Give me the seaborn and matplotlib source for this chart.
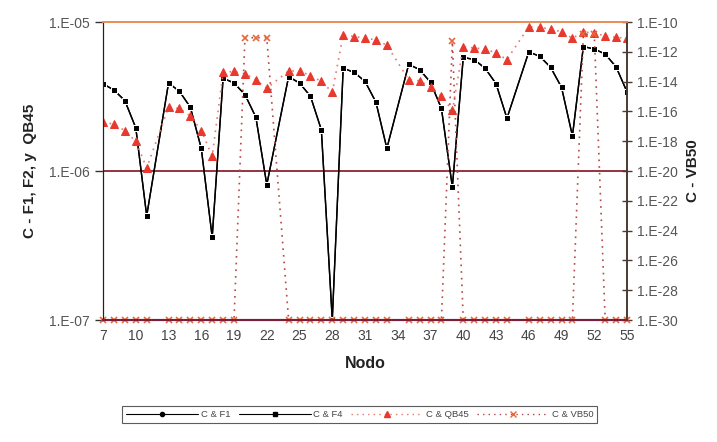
import numpy as np
import matplotlib
matplotlib.use("Agg")
import matplotlib.pyplot as plt
import seaborn as sns
from matplotlib.lines import Line2D
from matplotlib.ticker import FixedLocator, FuncFormatter, NullLocator

# nodes (12, 23, 34, 45 have no data)
nodos = [7, 8, 9, 10, 11, 13, 14, 15, 16, 17, 18, 19, 20, 21, 22,
         24, 25, 26, 27, 28, 29, 30, 31, 32, 33, 35, 36, 37, 38, 39,
         40, 41, 42, 43, 44, 46, 47, 48, 49, 50, 51, 52, 53, 54, 55]

c_f1 = [3.85e-6, 3.5e-6, 2.97e-6, 1.95e-6, 5.0e-7, 3.9e-6, 3.43e-6, 2.68e-6, 1.42e-6, 3.6e-7,
        4.2e-6, 3.9e-6, 3.26e-6, 2.3e-6, 8.1e-7, 4.3e-6, 3.9e-6, 3.18e-6, 1.89e-6, 1.0e-7,
        4.9e-6, 4.6e-6, 4.0e-6, 2.9e-6, 1.42e-6, 5.2e-6, 4.8e-6, 3.94e-6, 2.63e-6, 7.8e-7,
        5.8e-6, 5.6e-6, 4.9e-6, 3.86e-6, 2.26e-6, 6.3e-6, 5.9e-6, 4.97e-6, 3.65e-6, 1.72e-6,
        6.85e-6, 6.6e-6, 6.1e-6, 5.0e-6, 3.4e-6]

c_f4 = [3.85e-6, 3.5e-6, 2.97e-6, 1.95e-6, 5.0e-7, 3.9e-6, 3.43e-6, 2.68e-6, 1.42e-6, 3.6e-7,
        4.2e-6, 3.9e-6, 3.26e-6, 2.3e-6, 8.1e-7, 4.3e-6, 3.9e-6, 3.18e-6, 1.89e-6, 1.0e-7,
        4.9e-6, 4.6e-6, 4.0e-6, 2.9e-6, 1.42e-6, 5.2e-6, 4.8e-6, 3.94e-6, 2.63e-6, 7.8e-7,
        5.8e-6, 5.6e-6, 4.9e-6, 3.86e-6, 2.26e-6, 6.3e-6, 5.9e-6, 4.97e-6, 3.65e-6, 1.72e-6,
        6.85e-6, 6.6e-6, 6.1e-6, 5.0e-6, 3.4e-6]

c_qb45 = [2.14e-6, 2.06e-6, 1.87e-6, 1.58e-6, 1.05e-6, 2.68e-6, 2.63e-6, 2.34e-6, 1.87e-6, 1.26e-6,
          4.6e-6, 4.66e-6, 4.5e-6, 4.1e-6, 3.6e-6, 4.7e-6, 4.7e-6, 4.37e-6, 4.0e-6, 3.38e-6,
          8.2e-6, 8.0e-6, 7.8e-6, 7.6e-6, 7.0e-6, 4.1e-6, 4.04e-6, 3.65e-6, 3.2e-6, 2.55e-6,
          6.85e-6, 6.7e-6, 6.6e-6, 6.2e-6, 5.6e-6, 9.3e-6, 9.2e-6, 9.0e-6, 8.6e-6, 7.8e-6,
          8.6e-6, 8.4e-6, 8.1e-6, 7.9e-6, 7.8e-6]

c_vb50 = [1e-30, 1e-30, 1e-30, 1e-30, 1e-30, 1e-30, 1e-30, 1e-30, 1e-30, 1e-30,
          1e-30, 1e-30, 9e-12, 9e-12, 9e-12, 1e-30, 1e-30, 1e-30, 1e-30, 1e-30,
          1e-30, 1e-30, 1e-30, 1e-30, 1e-30, 1e-30, 1e-30, 1e-30, 1e-30, 5e-12,
          1e-30, 1e-30, 1e-30, 1e-30, 1e-30, 1e-30, 1e-30, 1e-30, 1e-30, 1e-30,
          1.5e-11, 1.5e-11, 1e-30, 1e-30, 1e-30]

x_ticks = list(range(7, 56, 3))
left_ticks = [1e-7, 1e-6, 1e-5]
right_ticks = [10.0 ** -k for k in range(30, 9, -2)]

sns.set_style("white")
plt.rcParams["font.family"] = ["Liberation Sans", "DejaVu Sans"]

fig = plt.figure(figsize=(7.17, 4.42), dpi=100)
ax = fig.add_axes([0.1437, 0.276, 0.7308, 0.674])
ax2 = ax.twinx()

red_tri = "#e8392e"
red_dot = "#e27a6e"
x_col = "#e8663c"
vb_dot = "#b34848"

sns.lineplot(x=nodos, y=c_f1, ax=ax, color="black", marker="o", markersize=3.5,
             linewidth=1.0, estimator=None, sort=False, legend=False)
sns.lineplot(x=nodos, y=c_f4, ax=ax, color="black", marker="s", markersize=4.5,
             linewidth=1.0, estimator=None, sort=False, legend=False)
sns.lineplot(x=nodos, y=c_qb45, ax=ax, color=red_dot, marker="^", markersize=5.5,
             markerfacecolor=red_tri, markeredgecolor=red_tri, linewidth=1.2,
             linestyle=(0, (1, 3)), estimator=None, sort=False, legend=False)
sns.lineplot(x=nodos, y=c_vb50, ax=ax2, color=vb_dot, marker="x", markersize=5,
             markeredgecolor=x_col, markeredgewidth=1.2, linewidth=1.2,
             linestyle=(0, (1, 3)), estimator=None, sort=False, legend=False, clip_on=False)

ax.set_yscale("log")
ax2.set_yscale("log")
ax.set_xlim(7, 55)
ax.set_ylim(1e-7, 1e-5)
ax2.set_ylim(1e-30, 1e-10)

# horizontal line at the middle left tick
ax.axhline(1e-6, color="#8e2232", linewidth=1.3, zorder=0)

ax.xaxis.set_major_locator(FixedLocator(x_ticks))
ax.yaxis.set_major_locator(FixedLocator(left_ticks))
ax.yaxis.set_minor_locator(NullLocator())
ax.yaxis.set_major_formatter(FuncFormatter(lambda v, p: "1.E-%02d" % round(-np.log10(v))))
ax2.yaxis.set_major_locator(FixedLocator(right_ticks))
ax2.yaxis.set_minor_locator(NullLocator())
ax2.yaxis.set_major_formatter(FuncFormatter(lambda v, p: "1.E-%02d" % round(-np.log10(v))))

ax.tick_params(axis="x", direction="inout", length=5, width=1, colors="#333333",
               labelsize=10, labelcolor="#444444", pad=4)
ax.tick_params(axis="y", direction="out", length=6, width=1, colors="#333333",
               labelsize=10, labelcolor="#555555")
ax2.tick_params(axis="y", direction="inout", length=7, width=1, colors="#4a3a30",
                labelsize=10, labelcolor="#555555")

for a in (ax, ax2):
    a.spines["top"].set_color("#e8905a")
    a.spines["top"].set_linewidth(1.3)
    a.spines["bottom"].set_color("#7a1e3a")
    a.spines["bottom"].set_linewidth(1.5)
    a.spines["left"].set_color("#222222")
    a.spines["right"].set_color("#4a3a30")
    a.spines["right"].set_linewidth(1.2)

ax.set_xlabel("Nodo", fontsize=11.5, fontweight="bold", color="#222222", labelpad=9)
ax.set_ylabel("C - F1, F2, y  QB45", fontsize=11, fontweight="bold", color="#222222", labelpad=9)
ax2.set_ylabel("C - VB50", fontsize=11, fontweight="bold", color="#222222", labelpad=6)

handles = [
    Line2D([], [], color="black", marker="o", markersize=3, linewidth=0.8),
    Line2D([], [], color="black", marker="s", markersize=3.5, linewidth=0.8),
    Line2D([], [], color=red_dot, marker="^", markersize=4, markerfacecolor=red_tri,
           markeredgecolor=red_tri, linestyle=(0, (1, 3)), linewidth=1),
    Line2D([], [], color=vb_dot, marker="x", markersize=4, markeredgecolor=x_col,
           linestyle=(0, (1, 3)), linewidth=1),
]
labels = ["C & F1", "C & F4", "C & QB45", "C & VB50"]
leg = fig.legend(handles, labels, loc="center", bbox_to_anchor=(0.502, 0.062), ncol=4,
                 fontsize=6.8, handlelength=7.6, handletextpad=0.3, columnspacing=0.9,
                 frameon=True, fancybox=False, edgecolor="#333333", borderpad=0.4)
leg.get_frame().set_linewidth(0.8)
for t in leg.get_texts():
    t.set_color("#444444")

fig.savefig("out.png", dpi=100)
